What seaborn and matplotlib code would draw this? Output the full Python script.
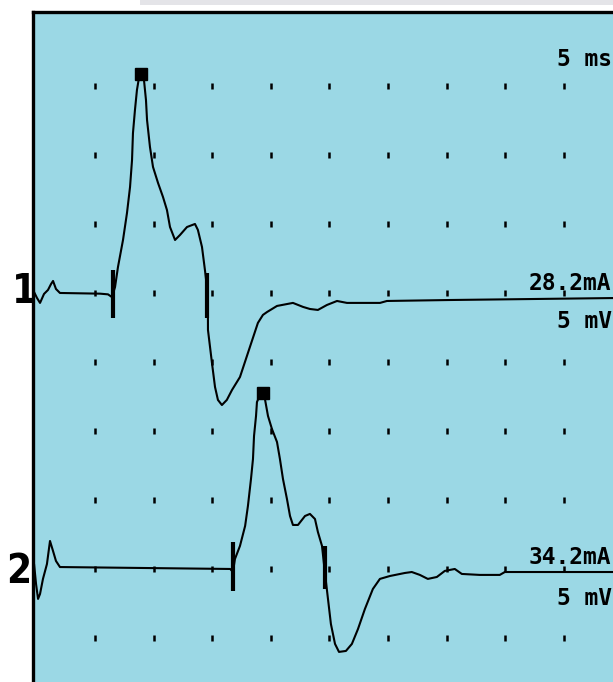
import numpy as np
import pandas as pd
import matplotlib
matplotlib.use("Agg")
import matplotlib.pyplot as plt
from matplotlib.patches import Rectangle
import seaborn as sns

# trace 1 (time in ms, amplitude in mV, baseline 0)
trace1_ms = [-0.20, 0.05, 0.31, 0.65, 0.99, 1.25, 1.42, 1.67, 2.01, 5.43, 6.11, 6.45,
             6.71, 6.96, 7.39, 7.73, 7.99, 8.16, 8.24, 8.41, 8.58, 8.75, 8.93, 9.18,
             9.35, 9.44, 9.69, 9.95, 10.38, 10.80, 11.14, 11.40, 11.83, 12.25, 12.85,
             13.53, 13.78, 14.13, 14.38, 14.63, 14.64, 14.98, 15.24, 15.49, 15.83,
             16.25, 16.69, 17.37, 18.22, 18.90, 19.33, 19.68, 20.53, 21.89, 22.75,
             23.34, 24.02, 24.79, 25.65, 26.50, 29.32, 29.91, 35.29, 50.0]
trace1_mv = [0.07, -0.36, -0.72, -0.07, 0.22, 0.65, 0.87, 0.29, 0.0, -0.05, -0.10, -0.30,
             0.43, 1.88, 3.84, 5.80, 7.68, 9.64, 11.59, 13.26, 14.71, 15.58, 15.80, 15.43,
             13.98, 12.54, 10.58, 9.13, 7.97, 6.96, 6.01, 4.78, 3.84, 4.20, 4.78,
             5.00, 4.57, 3.33, 1.67, -0.14, -2.68, -5.07, -6.81, -7.75, -8.12,
             -7.75, -7.03, -6.09, -3.91, -2.17, -1.59, -1.38, -0.94, -0.72, -1.01,
             -1.16, -1.23, -0.87, -0.58, -0.72, -0.72, -0.58, -0.51, -0.36]

# trace 2 (time in ms, amplitude in mV relative to its own baseline)
trace2_ms = [-0.20, -0.03, 0.14, 0.31, 0.56, 0.90, 1.16, 1.42, 1.67, 2.01, 16.54, 16.77,
             16.94, 17.37, 17.81, 18.05, 18.31, 18.48, 18.57, 18.74, 18.82, 19.08,
             19.33, 19.50, 19.76, 20.10, 20.53, 20.78, 21.04, 21.38, 21.64, 21.89,
             22.32, 22.92, 23.34, 23.77, 24.02, 24.37, 24.63, 24.88, 25.13, 25.48,
             25.82, 26.41, 26.92, 27.44, 28.03, 28.71, 29.31, 30.16, 31.44, 32.03,
             32.72, 33.40, 34.17, 34.85, 35.70, 36.30, 37.83, 39.54, 39.97, 50.0]
trace2_mv = [0.36, -1.09, -2.17, -1.81, -0.72, 0.36, 2.03, 1.30, 0.58, 0.14, 0.0, -0.22,
             0.72, 1.67, 3.12, 4.57, 6.52, 7.97, 9.64, 11.09, 12.10, 12.61,
             12.75, 12.32, 11.09, 10.14, 9.20, 7.97, 6.52, 5.07, 3.84, 3.19,
             3.19, 3.84, 3.99, 3.62, 2.68, 1.67, -0.36, -2.17, -3.99, -5.43,
             -6.01, -5.94, -5.43, -4.35, -2.90, -1.45, -0.72, -0.51, -0.29, -0.22,
             -0.43, -0.72, -0.58, -0.14, 0.0, -0.36, -0.43, -0.43, -0.22, -0.22]
trace2_offset = -20.0

# stimulus / latency cursors (ms, top mV, bottom mV)
cursor1_ms = [6.54, 14.55]
cursor1_top = [1.67, 1.45]
cursor1_bot = [-1.81, -1.81]
cursor2_ms = [16.77, 24.62]
cursor2_top = [1.96, 1.67]
cursor2_bot = [-1.59, -1.45]

# peak markers
peak_ms = [8.93, 19.33]
peak_mv = [15.85, 12.75 + trace2_offset]

# grid dots (5 ms / 5 mV per division)
grid_ms = [5, 10, 15, 20, 25, 30, 35, 40, 45]
grid_mv = [15, 10, 5, 0, -5, -10, -15, -20, -25]

labels_stim = ["28.2mA", "34.2mA"]
label_gain = "5 mV"
label_sweep = "5 ms"

bg = "#9bd8e5"
sns.set_style("white", {"axes.facecolor": bg})
plt.rcParams["font.family"] = ["DejaVu Sans Mono", "DejaVu Sans"]

fig = plt.figure(figsize=(6.13, 6.82), dpi=100)
ax = fig.add_axes([33 / 613, 0.0, 1 - 33 / 613, 1 - 12 / 682])
ax.set_facecolor(bg)

gx, gy = np.meshgrid(grid_ms, grid_mv)
sns.scatterplot(x=gx.ravel(), y=gy.ravel(), marker="|", s=20, linewidth=1.8,
                color="black", ax=ax, zorder=1)

df1 = pd.DataFrame({"ms": trace1_ms, "mv": trace1_mv})
df2 = pd.DataFrame({"ms": trace2_ms, "mv": np.array(trace2_mv) + trace2_offset})
sns.lineplot(data=df1, x="ms", y="mv", sort=False, color="black", lw=1.5, ax=ax, zorder=3)
sns.lineplot(data=df2, x="ms", y="mv", sort=False, color="black", lw=1.5, ax=ax, zorder=3)

ax.vlines(cursor1_ms, cursor1_bot, cursor1_top, color="black", lw=3, zorder=4)
ax.vlines(cursor2_ms, np.array(cursor2_bot) + trace2_offset,
          np.array(cursor2_top) + trace2_offset, color="black", lw=3, zorder=4)
ax.plot(peak_ms, peak_mv, ls="none", marker="s", ms=8, color="black", zorder=5)

ax.set_xlim(-0.29, 49.2)
ax.set_ylim(-28.19, 20.36)
ax.set_xticks([])
ax.set_yticks([])
ax.set_xlabel("")
ax.set_ylabel("")
for side in ["right", "bottom"]:
    ax.spines[side].set_visible(False)
for side in ["left", "top"]:
    ax.spines[side].set_color("black")
    ax.spines[side].set_linewidth(2.4)

txt = dict(fontsize=16.5, fontweight="bold", color="black", ha="left", va="baseline",
           clip_on=False)
ax.text(44.4, 16.45, label_sweep, **txt)
ax.text(42.0, 0.25, labels_stim[0], **txt)
ax.text(44.4, -2.55, label_gain, **txt)
ax.text(42.0, 0.35 + trace2_offset, labels_stim[1], **txt)
ax.text(44.4, -2.62 + trace2_offset, label_gain, **txt)

num = dict(fontsize=29, fontweight="bold", color="black", ha="center", va="center",
           clip_on=False, family=["DejaVu Sans"], fontstretch="condensed")
ax.text(-1.0, 0.1, "1", **num)
ax.text(-1.55, -0.2 + trace2_offset, "2", **num)

# light grey strip along the top edge of the scan
fig.add_artist(Rectangle((140 / 613, 1 - 5 / 682), 1, 5 / 682,
                         transform=fig.transFigure, color="#e4e4e8", lw=0))

fig.savefig("out.png", dpi=100)
